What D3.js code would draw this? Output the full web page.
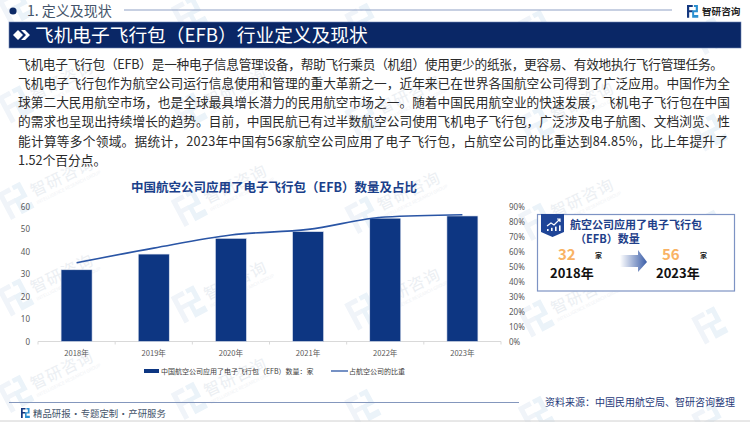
<!DOCTYPE html>
<html><head><meta charset="utf-8">
<style>html,body{margin:0;padding:0;background:#fff;overflow:hidden}svg{display:block}text{font-family:"Noto Sans CJK SC","Noto Sans",sans-serif}</style>
<script src="https://cdn.jsdelivr.net/npm/d3@7/dist/d3.min.js"></script>
</head><body><div id="c"></div>
<script>
const categories=["2018年","2019年","2020年","2021年","2022年","2023年"];
const counts=[32,39,46,49,55,56];
const shares=[52.7,62.5,71.3,75,83.33,84.85];
const leftTicks=[0,10,20,30,40,50,60];
const rightTicks=[0,10,20,30,40,50,60,70,80,90];
const bodyLines=[
"飞机电子飞行包（EFB）是一种电子信息管理设备，帮助飞行乘员（机组）使用更少的纸张，更容易、有效地执行飞行管理任务。",
"飞机电子飞行包作为航空公司运行信息使用和管理的重大革新之一，近年来已在世界各国航空公司得到了广泛应用。中国作为全",
"球第二大民用航空市场，也是全球最具增长潜力的民用航空市场之一。随着中国民用航空业的快速发展，飞机电子飞行包在中国",
"的需求也呈现出持续增长的趋势。目前，中国民航已有过半数航空公司使用飞机电子飞行包，广泛涉及电子航图、文档浏览、性",
"能计算等多个领域。据统计，2023年中国有56家航空公司应用了电子飞行包，占航空公司的比重达到84.85%，比上年提升了",
"1.52个百分点。"];
const bodyEnds=[723,730,730,730,728,null];

const W=750,H=422;
const svg=d3.select("#c").append("svg").attr("width",W).attr("height",H);
const defs=svg.append("defs");
const g1=defs.append("linearGradient").attr("id","arr");
g1.append("stop").attr("offset","0").attr("stop-color","#ffffff");
g1.append("stop").attr("offset","1").attr("stop-color","#3a5da8");

function logo(p,x,y,s,c1,c2){
  const g=p.append("g").attr("transform",`translate(${x},${y}) scale(${s})`);
  g.append("path").attr("d","M0 0H5V1.8H1.9V4.5H5V6.2H1.9V11H0Z").attr("fill",c1);
  g.append("path").attr("d","M6 0H9.5V6.2H6.2V8.6H9.8V11H4.5V4.6H7.6V1.8H6Z").attr("fill",c2);
  return g;
}
// watermark
const wm=svg.append("g");
d3.range(-1,5).forEach(col=>{
  d3.range(-1,5).forEach(row=>{
    const cx=17+col*173.5, cy=6+row*96.5+col*7;
    const l=wm.append("g").attr("transform",`translate(${cx},${cy}) rotate(-28)`);
    logo(l,-15,-14,2.7,"#f0f4f9","#ebf3f9");
    if(cx>=0 && cx+90<=W && cy-45>=0 && cy+22<=H){
      const t=wm.append("g").attr("transform",`translate(${cx+17},${cy-2}) rotate(-26)`);
      t.append("text").attr("font-size",16).attr("letter-spacing",1).attr("fill","#eceff3").text("智研咨询");
      t.append("text").attr("y",8).attr("font-size",4.5).attr("fill","#f0f2f5").text("INTELLIGENCE RESEARCH GROUP");
    }
  });
});

// header
svg.append("circle").attr("cx",13).attr("cy",11).attr("r",3.6).attr("fill","#0d2a66");
svg.append("text").attr("x",27).attr("y",16).attr("font-size",14).attr("fill","#44546a").text("1. 定义及现状");
svg.append("line").attr("x1",124).attr("x2",672).attr("y1",10).attr("y2",10).attr("stroke","#8fa2c6").attr("stroke-width",1.2);
logo(svg,687,5,1.15,"#14387f","#2a8fd0");
svg.append("text").attr("x",702).attr("y",14.5).attr("font-size",9.6).attr("font-weight",700).attr("fill","#222").text("智研咨询");

// title bar
svg.append("rect").attr("x",9).attr("y",22).attr("width",732).attr("height",26).attr("fill","#0a2766").attr("stroke","#6f86b5").attr("stroke-width",0.6);
svg.append("path").attr("d","M13 35L18 30L23 35L18 40Z").attr("fill","#fff");
svg.append("path").attr("d","M21 30H25L30 35L25 40H21L26 35Z").attr("fill","#fff");
svg.append("text").attr("x",35).attr("y",42).attr("font-size",18.7).attr("fill","#fff").text("飞机电子飞行包（EFB）行业定义及现状");

// body
const body=svg.append("g");
bodyLines.forEach((s,i)=>{
  const t=body.append("text").attr("x",18).attr("y",68.5+i*19.3).attr("font-size",12.7).attr("fill","#2a2a2a").text(s);
  if(bodyEnds[i]) t.attr("textLength",bodyEnds[i]-18).attr("lengthAdjust","spacing");
});

// chart
const xb=d3.scaleBand().domain(categories).range([38,501]);
const yL=d3.scaleLinear().domain([0,60]).range([341.5,207]);
const yR=d3.scaleLinear().domain([0,90]).range([341.5,207]);

svg.append("text").attr("x",131).attr("y",192).attr("font-size",12.5).attr("font-weight",700).attr("fill","#1a3f8a").text("中国航空公司应用了电子飞行包（EFB）数量及占比");

const gx=svg.append("g").attr("transform","translate(0,341.5)");
gx.append("line").attr("x1",38).attr("x2",501).attr("stroke","#d9d9d9");
gx.selectAll("line.t").data(d3.range(0,7)).join("line").attr("class","t")
 .attr("x1",d=>38+d*xb.step()).attr("x2",d=>38+d*xb.step()).attr("y2",3).attr("stroke","#d9d9d9");
const barW=31;
svg.append("g").selectAll("rect").data(categories).join("rect")
 .attr("x",d=>xb(d)+xb.bandwidth()/2-barW/2).attr("width",barW)
 .attr("y",(d,i)=>yL(counts[i])).attr("height",(d,i)=>yL(0)-yL(counts[i]))
 .attr("fill","#0d3682").attr("stroke","#dfe5f1").attr("stroke-width",0.6);
const line=d3.line().x((d,i)=>xb(categories[i])+xb.bandwidth()/2).y(d=>yR(d)).curve(d3.curveMonotoneX);
svg.append("path").attr("d",line(shares)).attr("fill","none").attr("stroke","#2a55a5").attr("stroke-width",1.6);

const axL=svg.append("g").attr("transform","translate(30,0)").call(d3.axisLeft(yL).tickValues(leftTicks).tickSize(0).tickPadding(0));
axL.select(".domain").remove();
const axR=svg.append("g").attr("transform","translate(509,0)").call(d3.axisRight(yR).tickValues(rightTicks).tickSize(0).tickPadding(0).tickFormat(d=>d+"%"));
axR.select(".domain").remove();
[axL,axR].forEach(a=>a.selectAll("text").attr("font-size",8).attr("fill","#595959").style("font-family",'"Noto Sans",sans-serif'));
svg.append("g").selectAll("text").data(categories).join("text")
 .attr("x",d=>xb(d)+xb.bandwidth()/2).attr("y",356).attr("text-anchor","middle")
 .attr("font-size",7.6).attr("fill","#595959").text(d=>d);

// legend
svg.append("rect").attr("x",144).attr("y",369).attr("width",15).attr("height",4).attr("fill","#0d3682");
svg.append("text").attr("x",161).attr("y",373.5).attr("font-size",7).attr("fill","#404040").text("中国航空公司应用了电子飞行包（EFB）数量：家");
svg.append("line").attr("x1",331).attr("x2",348).attr("y1",371).attr("y2",371).attr("stroke","#2a55a5").attr("stroke-width",1.3);
svg.append("text").attr("x",349).attr("y",373.5).attr("font-size",7).attr("fill","#404040").text("占航空公司的比重");

// callout
svg.append("rect").attr("x",537.5).attr("y",214.5).attr("width",197).attr("height",76.5).attr("fill","#fff").attr("stroke","#7d93c4").attr("stroke-width",1.2);
svg.append("path").attr("d","M541 214H564V232L552.5 237L541 232Z").attr("fill","#1f4597");
svg.append("path").attr("d","M547 226L551 223L554 225L560 219M557 219H560V222").attr("stroke","#fff").attr("fill","none").attr("stroke-width",1.2);
[547,551,555,559].forEach((bx,i)=>svg.append("rect").attr("x",bx).attr("y",229-i*1.2).attr("width",1.6).attr("height",2+i*1.2).attr("fill","#fff"));
const head=svg.append("text").attr("font-size",11).attr("font-weight",700).attr("fill","#1f3f8a");
head.append("tspan").attr("x",570).attr("y",229).text("航空公司应用了电子飞行包");
head.append("tspan").attr("x",575).attr("y",243).text("（EFB）数量");
const cb=[[558,595,550,0],[662,700,656,5]];
cb.forEach(c=>{
  svg.append("text").attr("x",c[0]).attr("y",260).attr("font-size",15).attr("font-weight",700).attr("fill","#f9b365").text(counts[c[3]]);
  svg.append("text").attr("x",c[1]).attr("y",258).attr("font-size",7).attr("font-weight",700).attr("fill","#222").text("家");
  svg.append("text").attr("x",c[2]).attr("y",278).attr("font-size",13).attr("font-weight",700).attr("fill","#111").text(categories[c[3]]);
});
svg.append("path").attr("d","M620 255H638V250L647 262L638 272V267H620Z").attr("fill","url(#arr)");

// footer
svg.append("line").attr("x1",9).attr("x2",519).attr("y1",402.5).attr("y2",402.5).attr("stroke","#8497bd").attr("stroke-width",1.2);
logo(svg,21,408,0.9,"#14387f","#2a8fd0");
svg.append("text").attr("x",33).attr("y",417).attr("font-size",9.4).attr("word-spacing",-1.7).attr("fill","#44546a").text("精品研报 · 专题定制 · 产研服务");
svg.append("text").attr("x",545).attr("y",405.5).attr("font-size",10).attr("fill","#1f3a7a").text("资料来源：中国民用航空局、智研咨询整理");
svg.append("line").attr("x1",0).attr("x2",750).attr("y1",421).attr("y2",421).attr("stroke","#d0d0d0");
</script></body></html>
